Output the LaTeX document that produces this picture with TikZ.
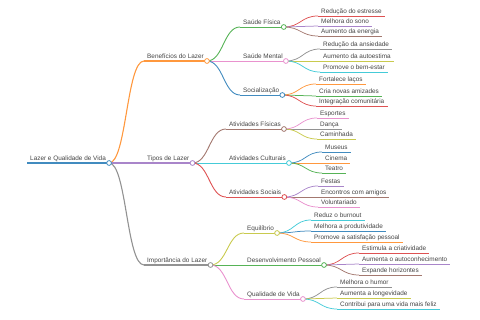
\documentclass[tikz,border=0pt]{standalone}
\usepackage{fontspec}
\setmainfont{Liberation Sans}
\usetikzlibrary{calc}
\definecolor{cA0}{HTML}{1F77B4}
\definecolor{cB0}{HTML}{FF7F0E}
\definecolor{cC0}{HTML}{2CA02C}
\definecolor{cD0}{HTML}{D62728}
\definecolor{cE0}{HTML}{9467BD}
\definecolor{cF0}{HTML}{8C564B}
\definecolor{cG0}{HTML}{E377C2}
\definecolor{cH0}{HTML}{7F7F7F}
\definecolor{cI0}{HTML}{BCBD22}
\definecolor{cJ0}{HTML}{17BECF}
\colorlet{cA}{cA0!85!white}
\colorlet{cB}{cB0!80!white}
\colorlet{cC}{cC0!80!white}
\colorlet{cD}{cD0!80!white}
\colorlet{cE}{cE0!80!white}
\colorlet{cF}{cF0!80!white}
\colorlet{cG}{cG0!80!white}
\colorlet{cH}{cH0!85!white}
\colorlet{cI}{cI0!80!white}
\colorlet{cJ}{cJ0!80!white}
\definecolor{txt}{HTML}{444444}
\tikzset{
  lbl/.style={inner sep=0pt, text=txt, font=\fontsize{6.4}{7}\selectfont, anchor=base west},
  dot/.style={circle, fill=white, inner sep=0pt, minimum size=4.8pt, line width=0.8pt},
  dzero/.style={line width=1.4pt},
  done/.style={line width=1.1pt},
  dtwo/.style={line width=0.9pt},
  dthree/.style={line width=0.75pt},
}
% name, x, y, color, depth style, text
\newcommand\mmnode[6]{%
  \node[lbl] (#1) at (#2,#3-2) {#6};
  \coordinate (#1s) at (#2-3,#3);
  \coordinate (#1e) at ($(#1.base east)+(3,2)$);
  \draw[#4,#5] (#1s) -- (#1e);
}
% parent, child, color, depth style
\newcommand\mmlink[4]{%
  \draw[#3,#4] (#1e) .. controls ($(#1e)!0.5!(#2s|-#1e)$) and ($(#2s)!0.5!(#1e|-#2s)$) .. (#2s);
}
\newcommand\mmdot[2]{\node[dot,draw=#2] (#1c) at (#1e) {};}
\begin{document}
\begin{tikzpicture}[x=1pt,y=-1pt]
\useasboundingbox (0,0) rectangle (480,320);
% nodes
\mmnode{root}{30}{163}{cA}{dzero}{Lazer e Qualidade de Vida}
\mmnode{ben}{147}{61}{cB}{done}{Benefícios do Lazer}
\mmnode{sf}{243}{27}{cC}{dtwo}{Saúde Física}
\mmnode{sfa}{321}{16}{cD}{dthree}{Redução do estresse}
\mmnode{sfb}{321}{26}{cE}{dthree}{Melhora do sono}
\mmnode{sfc}{321}{36}{cF}{dthree}{Aumento da energia}
\mmnode{sm}{243}{61}{cG}{dtwo}{Saúde Mental}
\mmnode{sma}{323}{49}{cH}{dthree}{Redução da ansiedade}
\mmnode{smb}{323}{61}{cI}{dthree}{Aumento da autoestima}
\mmnode{smc}{323}{72}{cJ}{dthree}{Promove o bem-estar}
\mmnode{so}{243}{95}{cA}{dtwo}{Socialização}
\mmnode{soa}{319}{84}{cB}{dthree}{Fortalece laços}
\mmnode{sob}{319}{96}{cC}{dthree}{Cria novas amizades}
\mmnode{soc}{319}{106}{cD}{dthree}{Integração comunitária}
\mmnode{tip}{147}{163}{cE}{done}{Tipos de Lazer}
\mmnode{af}{229}{129}{cF}{dtwo}{Atividades Físicas}
\mmnode{afa}{320}{118}{cG}{dthree}{Esportes}
\mmnode{afb}{320}{129}{cH}{dthree}{Dança}
\mmnode{afc}{320}{139}{cI}{dthree}{Caminhada}
\mmnode{ac}{229}{163}{cJ}{dtwo}{Atividades Culturais}
\mmnode{aca}{325}{152}{cA}{dthree}{Museus}
\mmnode{acb}{325}{163}{cB}{dthree}{Cinema}
\mmnode{acc}{325}{173}{cC}{dthree}{Teatro}
\mmnode{as}{229}{197}{cD}{dtwo}{Atividades Sociais}
\mmnode{asa}{321}{186}{cE}{dthree}{Festas}
\mmnode{asb}{321}{197}{cF}{dthree}{Encontros com amigos}
\mmnode{asc}{321}{207}{cG}{dthree}{Voluntariado}
\mmnode{imp}{147}{265}{cH}{done}{Importância do Lazer}
\mmnode{eq}{247}{233}{cI}{dtwo}{Equilíbrio}
\mmnode{eqa}{314}{220}{cJ}{dthree}{Reduz o burnout}
\mmnode{eqb}{314}{231}{cA}{dthree}{Melhora a produtividade}
\mmnode{eqc}{314}{242}{cB}{dthree}{Promove a satisfação pessoal}
\mmnode{dp}{247}{265}{cC}{dtwo}{Desenvolvimento Pessoal}
\mmnode{dpa}{362}{253}{cD}{dthree}{Estimula a criatividade}
\mmnode{dpb}{362}{264}{cE}{dthree}{Aumenta o autoconhecimento}
\mmnode{dpc}{362}{275}{cF}{dthree}{Expande horizontes}
\mmnode{qv}{247}{299}{cG}{dtwo}{Qualidade de Vida}
\mmnode{qva}{340}{287}{cH}{dthree}{Melhora o humor}
\mmnode{qvb}{340}{298}{cI}{dthree}{Aumenta a longevidade}
\mmnode{qvc}{340}{309}{cJ}{dthree}{Contribui para uma vida mais feliz}
% links
\mmlink{root}{ben}{cB}{done}
\mmlink{root}{tip}{cE}{done}
\mmlink{root}{imp}{cH}{done}
\mmlink{ben}{sf}{cC}{dtwo}
\mmlink{ben}{sm}{cG}{dtwo}
\mmlink{ben}{so}{cA}{dtwo}
\mmlink{sf}{sfa}{cD}{dthree}
\mmlink{sf}{sfb}{cE}{dthree}
\mmlink{sf}{sfc}{cF}{dthree}
\mmlink{sm}{sma}{cH}{dthree}
\mmlink{sm}{smb}{cI}{dthree}
\mmlink{sm}{smc}{cJ}{dthree}
\mmlink{so}{soa}{cB}{dthree}
\mmlink{so}{sob}{cC}{dthree}
\mmlink{so}{soc}{cD}{dthree}
\mmlink{tip}{af}{cF}{dtwo}
\mmlink{tip}{ac}{cJ}{dtwo}
\mmlink{tip}{as}{cD}{dtwo}
\mmlink{af}{afa}{cG}{dthree}
\mmlink{af}{afb}{cH}{dthree}
\mmlink{af}{afc}{cI}{dthree}
\mmlink{ac}{aca}{cA}{dthree}
\mmlink{ac}{acb}{cB}{dthree}
\mmlink{ac}{acc}{cC}{dthree}
\mmlink{as}{asa}{cE}{dthree}
\mmlink{as}{asb}{cF}{dthree}
\mmlink{as}{asc}{cG}{dthree}
\mmlink{imp}{eq}{cI}{dtwo}
\mmlink{imp}{dp}{cC}{dtwo}
\mmlink{imp}{qv}{cG}{dtwo}
\mmlink{eq}{eqa}{cJ}{dthree}
\mmlink{eq}{eqb}{cA}{dthree}
\mmlink{eq}{eqc}{cB}{dthree}
\mmlink{dp}{dpa}{cD}{dthree}
\mmlink{dp}{dpb}{cE}{dthree}
\mmlink{dp}{dpc}{cF}{dthree}
\mmlink{qv}{qva}{cH}{dthree}
\mmlink{qv}{qvb}{cI}{dthree}
\mmlink{qv}{qvc}{cJ}{dthree}
% circles
\mmdot{root}{cA}
\mmdot{ben}{cB}
\mmdot{tip}{cE}
\mmdot{imp}{cH}
\mmdot{sf}{cC}
\mmdot{sm}{cG}
\mmdot{so}{cA}
\mmdot{af}{cF}
\mmdot{ac}{cJ}
\mmdot{as}{cD}
\mmdot{eq}{cI}
\mmdot{dp}{cC}
\mmdot{qv}{cG}
\end{tikzpicture}
\end{document}
